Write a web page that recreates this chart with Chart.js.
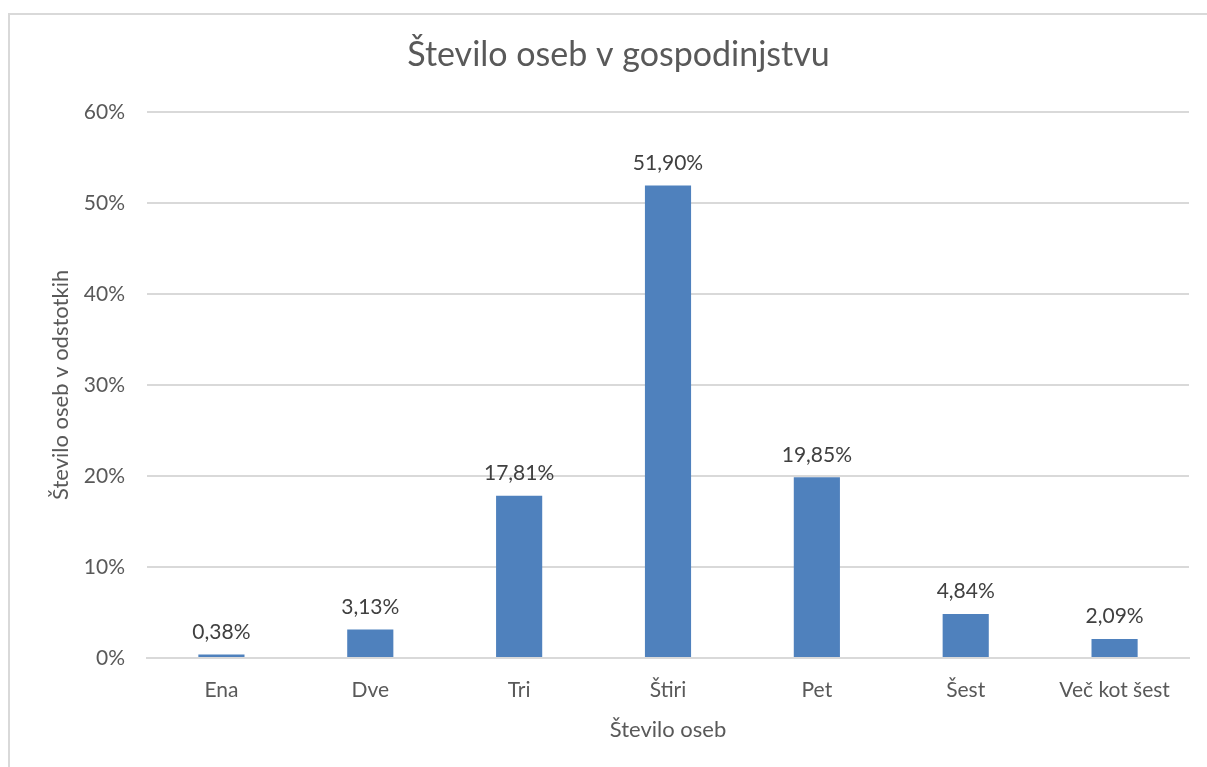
<!DOCTYPE html>
<html>
<head>
<meta charset="utf-8">
<script src="https://cdn.jsdelivr.net/npm/chart.js@4"></script>
<style>
  html, body { margin: 0; padding: 0; background: #fff; overflow: hidden; }
  #frame { position: absolute; left: 0; top: 0; width: 1207px; height: 767px; }
  #border { position: absolute; left: 8px; top: 13px; width: 1220px; height: 800px; border: 2px solid #d9d9d9; box-sizing: border-box; }
  canvas { position: absolute; left: 0; top: 0; }
</style>
</head>
<body>
<div id="frame">
  <div id="border"></div>
  <canvas id="chart" width="1207" height="767"></canvas>
</div>
<script>
// data
const categories = ['Ena', 'Dve', 'Tri', 'Štiri', 'Pet', 'Šest', 'Več kot šest'];
const shares = [0.38, 3.13, 17.81, 51.90, 19.85, 4.84, 2.09];
const yTicks = [0, 10, 20, 30, 40, 50, 60];

const FONT = 'Lato, "Open Sans", sans-serif';
const TEXT = '#595959';

// draws value labels over each bar (no datalabels plugin available)
const barLabels = {
    id: 'barLabels',
    afterDatasetsDraw(chart) {
        const ctx = chart.ctx;
        const meta = chart.getDatasetMeta(0);
        ctx.save();
        ctx.font = '21px ' + FONT;
        ctx.fillStyle = '#404040';
        ctx.textAlign = 'center';
        ctx.textBaseline = 'bottom';
        meta.data.forEach((bar, i) => {
            const txt = shares[i].toFixed(2).replace('.', ',') + '%';
            ctx.fillText(txt, bar.x, bar.y - 12);
        });
        ctx.restore();
    }
};

new Chart(document.getElementById('chart'), {
    type: 'bar',
    data: {
        labels: categories,
        datasets: [{
            data: shares,
            backgroundColor: '#4f81bd',
            borderWidth: 0,
            categoryPercentage: 1,
            barPercentage: 0.31
        }]
    },
    options: {
        responsive: false,
        animation: false,
        layout: { padding: { left: 48, right: 18, top: 0, bottom: 24 } },
        plugins: {
            legend: { display: false },
            tooltip: { enabled: false },
            title: {
                display: true,
                text: 'Število oseb v gospodinjstvu',
                color: TEXT,
                font: { family: FONT, size: 34, weight: 'normal' },
                padding: { top: 35, bottom: 36 }
            }
        },
        scales: {
            x: {
                grid: { display: false, drawTicks: false },
                border: { display: true, color: '#d9d9d9', width: 2 },
                ticks: { color: TEXT, font: { family: FONT, size: 21 }, padding: 20, maxRotation: 0 },
                title: { display: true, text: 'Število oseb', color: TEXT, font: { family: FONT, size: 22 }, padding: { top: 4, bottom: 0 } },
                afterFit(scale) { scale.height = 85; }
            },
            y: {
                min: 0,
                max: 60,
                afterBuildTicks(scale) { scale.ticks = yTicks.map(v => ({ value: v })); },
                grid: { color: '#d9d9d9', lineWidth: 2, drawTicks: false },
                border: { display: false },
                ticks: { color: TEXT, font: { family: FONT, size: 21 }, padding: 22, callback: v => v + '%' },
                title: { display: true, text: 'Število oseb v odstotkih', color: TEXT, font: { family: FONT, size: 22 }, padding: { top: 0, bottom: 0 } },
                afterFit(scale) { scale.width = 99; }
            }
        }
    },
    plugins: [barLabels]
});
</script>
</body>
</html>
